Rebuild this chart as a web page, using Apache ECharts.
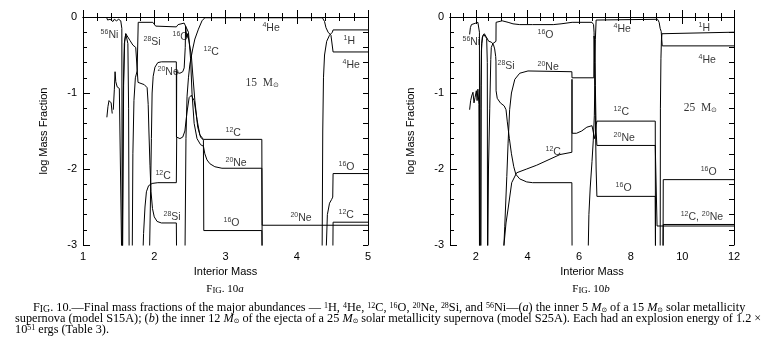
<!DOCTYPE html>
<html><head><meta charset="utf-8">
<script src="https://cdn.jsdelivr.net/npm/echarts@6/dist/echarts.min.js"></script>
<style>html,body{margin:0;padding:0;background:#fff}#c{width:769px;height:347px}</style>
</head><body><div id="c"></div>
<script>
// ---------- tick labels ----------
const xTicksA = [1, 2, 3, 4, 5];
const xTicksB = [2, 4, 6, 8, 10, 12];
const yTicks = [-3, -2, -1, 0];

// ---------- Panel (a): 15 Msun, log mass fraction vs interior mass ----------
const h1_a = [[[4.355,-3.3],[4.365,-1.5],[4.375,-0.8],[4.39,-0.5],[4.42,-0.32],[4.46,-0.24],[4.5,-0.2],[4.51,-0.17],[5,-0.17]]];
const he4_a = [
  [[1.335,-1.32],[1.35,-1.18],[1.365,-1.1],[1.38,-1.08],[1.395,-1.13],[1.41,-1.27]],
  [[1.425,-1.22],[1.44,-0.95],[1.45,-0.72],[1.46,-0.85],[1.48,-0.92],[1.51,-0.94],[1.535,-0.96],[1.545,-3.3]],
  [[2.43,-3.3],[2.445,-1.6],[2.46,-1.05],[2.48,-0.8],[2.5,-0.62],[2.54,-0.42],[2.57,-0.29],[2.62,-0.16],[2.67,-0.05],[2.71,-0.01],[4.36,-0.01],[4.39,-0.06],[4.41,-0.14],[4.44,-0.2],[4.48,-0.24],[4.505,-0.25],[4.51,-0.46],[5,-0.46]]
];
const c12_a = [
  [[1.835,-3.3],[1.85,-2.85],[1.87,-2.5],[1.89,-2.3],[1.92,-2.22],[1.97,-2.19],[2.05,-2.18],[2.31,-2.18],[2.315,-1.58],[2.36,-1.6],[2.4,-1.58],[2.43,-1.5],[2.46,-1.25],[2.49,-1.06],[2.52,-1.03],[2.56,-1.1],[2.6,-1.35],[2.64,-1.55],[2.69,-1.61],[3.51,-1.61],[3.515,-3.3]],
  [[4.505,-3.3],[4.51,-2.7],[5,-2.7]]
];
const o16_a = [
  [[1.69,-3.3],[1.7,-1.8],[1.715,-1.1],[1.735,-0.8],[1.76,-0.71],[1.772,-0.7],[1.775,-0.07],[1.98,-0.07],[2.02,-0.12],[2.04,-0.13],[2.31,-0.13],[2.335,-0.1],[2.36,-0.08],[2.42,-0.08],[2.44,-0.12],[2.455,-0.27],[2.47,-0.22],[2.49,-0.24],[2.52,-0.5],[2.54,-0.75],[2.57,-1.1],[2.61,-1.45],[2.65,-1.58],[2.69,-1.62],[2.695,-2.81],[3.51,-2.81],[3.515,-3.3]],
  [[4.405,-3.3],[4.43,-2.6],[4.46,-2.45],[4.49,-2.4],[4.505,-2.37],[4.51,-2.06],[5,-2.06]]
];
const ne20_a = [[[1.93,-3.3],[1.945,-2.5],[1.96,-1.6],[1.97,-1.0],[1.985,-0.78],[2.01,-0.66],[2.05,-0.6],[2.1,-0.59],[2.31,-0.59],[2.312,-1.58],[2.315,-0.73],[2.36,-0.74],[2.4,-0.72],[2.42,-0.67],[2.435,-0.4],[2.44,-0.12],[2.46,-0.1],[2.48,-0.2],[2.51,-0.55],[2.53,-1.0],[2.56,-1.4],[2.6,-1.6],[2.65,-1.68],[2.69,-1.7],[2.71,-1.8],[2.74,-1.88],[2.78,-1.93],[2.85,-1.97],[2.95,-1.99],[3.51,-1.99],[3.515,-2.74],[5,-2.74]]];
const si28_a = [[[1.55,-3.3],[1.565,-1.0],[1.58,-0.35],[1.6,-0.22],[1.62,-0.24],[1.66,-0.31],[1.7,-0.37],[1.74,-0.4],[1.765,-0.41],[1.772,-0.86],[1.8,-0.87],[1.86,-0.89],[1.9,-0.93],[1.915,-1.15],[1.925,-1.5],[1.94,-1.95],[1.955,-2.3],[1.975,-2.52],[2.0,-2.63],[2.04,-2.69],[2.1,-2.71],[2.31,-2.71],[2.315,-3.3]]];
const ni56_a = [
  [[1.33,0],[1.345,-0.04],[1.36,-0.06],[1.38,-0.03],[1.4,-0.05],[1.42,-0.06],[1.44,-0.03],[1.47,-0.05],[1.5,-0.03],[1.53,-0.05],[1.545,-0.15],[1.55,-3.3]],
  [[1.555,-3.3],[1.57,-0.9],[1.585,-0.32],[1.6,-0.22],[1.615,-0.22],[1.63,-0.35],[1.64,-1.2],[1.648,-3.3]]
];

// ---------- Panel (b): 25 Msun ----------
const h1_b = [[[9.14,-3.3],[9.15,-1.2],[9.17,-0.55],[9.19,-0.3],[9.21,-0.22],[9.22,-0.2],[12,-0.2]]];
const he4_b = [
  [[1.76,-1.22],[1.8,-1.1],[1.84,-1.04],[1.89,-0.99],[1.93,-1.13],[1.97,-1.06],[2.02,-0.97],[2.05,-1.1],[2.08,-0.95],[2.12,-1.15],[2.145,-3.3]],
  [[6.34,-3.3],[6.38,-2.6],[6.43,-2.25],[6.5,-1.9],[6.55,-1.62],[6.59,-1.3],[6.61,-0.9],[6.615,-0.6],[6.63,-0.3],[6.66,-0.04],[6.7,-0.03],[9.04,-0.03],[9.1,-0.07],[9.14,-0.15],[9.18,-0.19],[9.215,-0.2],[9.22,-0.38],[12,-0.38]]
];
const c12_b = [
  [[3.07,-3.3],[3.09,-3.0],[3.17,-2.71],[3.26,-2.5],[3.39,-2.18],[3.58,-2.05],[3.97,-2.0],[4.36,-1.95],[5.26,-1.81],[5.72,-1.78],[5.725,-0.82],[5.73,-1.53],[5.9,-1.53],[6.1,-1.5],[6.3,-1.45],[6.5,-1.43],[6.57,-1.45],[6.6,-1.6],[6.63,-1.55],[6.66,-1.42],[6.69,-1.37],[8.95,-1.37],[8.96,-3.3]],
  [[9.25,-3.3],[9.26,-2.73],[12,-2.73]]
];
const o16_b = [
  [[2.46,-3.3],[2.49,-2.0],[2.54,-1.2],[2.58,-0.56],[2.6,-0.4],[2.66,-0.35],[2.73,-0.33],[2.78,-0.32],[2.785,-0.07],[2.85,-0.06],[3.02,-0.05],[3.25,-0.07],[3.44,-0.09],[3.7,-0.1],[4.2,-0.1],[5.0,-0.1],[5.3,-0.09],[5.73,-0.07],[6.5,-0.07],[6.56,-0.1],[6.58,-0.2],[6.6,-0.6],[6.63,-1.3],[6.66,-2.0],[6.69,-2.36],[8.95,-2.36],[8.96,-3.3]],
  [[9.25,-3.3],[9.26,-2.14],[12,-2.14]]
];
const ne20_b = [[[3.05,-3.3],[3.12,-2.76],[3.2,-2.1],[3.25,-1.66],[3.31,-1.22],[3.38,-1.0],[3.51,-0.82],[3.7,-0.74],[4.02,-0.71],[5.72,-0.72],[5.725,-0.8],[6.57,-0.8],[6.58,-0.25],[6.6,-0.3],[6.63,-0.9],[6.66,-1.5],[6.69,-1.69],[8.95,-1.69],[9.0,-1.7],[9.02,-2.75],[12,-2.75]]];
const si28_b = [[[2.19,-3.3],[2.205,-0.9],[2.225,-0.35],[2.27,-0.25],[2.33,-0.22],[2.4,-0.26],[2.5,-0.32],[2.6,-0.33],[2.68,-0.36],[2.73,-0.42],[2.77,-0.52],[2.78,-0.58],[2.785,-0.97],[2.83,-1.07],[2.95,-1.13],[3.1,-1.17],[3.17,-1.22],[3.22,-1.38],[3.3,-1.6],[3.38,-1.8],[3.47,-1.97],[3.55,-2.07],[3.7,-2.13],[3.97,-2.17],[4.2,-2.18],[5.72,-2.18],[5.73,-3.3]]];
const ni56_b = [
  [[1.76,-0.23],[1.79,-0.14],[1.83,-0.1],[1.9,-0.09],[2.0,-0.08],[2.08,-0.07],[2.13,-0.07],[2.14,-0.2],[2.148,-3.3]],
  [[2.19,-3.3],[2.2,-1.2],[2.215,-0.45],[2.25,-0.27],[2.3,-0.23],[2.37,-0.22],[2.42,-0.28],[2.445,-0.6],[2.455,-3.3]]
];

// ---------- species labels (mass number, element, x, y in data units) ----------
const labelsA = [
  ['56','Ni',1.24,-0.23], ['28','Si',1.842,-0.32], ['16','O',2.249,-0.26], ['20','Ne',2.039,-0.72],
  ['12','C',2.684,-0.455], ['4','He',3.512,-0.14], ['1','H',4.649,-0.31], ['4','He',4.635,-0.63],
  ['12','C',2.993,-1.52], ['20','Ne',2.993,-1.91], ['16','O',2.965,-2.71], ['20','Ne',3.905,-2.645],
  ['16','O',4.579,-1.97], ['12','C',4.579,-2.6], ['12','C',2.01,-2.09], ['28','Si',2.123,-2.62]
];
const labelsB = [
  ['56','Ni',1.465,-0.32], ['16','O',4.372,-0.23], ['28','Si',2.822,-0.64], ['20','Ne',4.372,-0.65],
  ['12','C',4.682,-1.77], ['4','He',7.318,-0.15], ['1','H',10.61,-0.14], ['4','He',10.61,-0.56],
  ['12','C',7.318,-1.25], ['20','Ne',7.318,-1.59], ['16','O',7.395,-2.25], ['16','O',10.69,-2.03],
  ['12,20','C,Ne',9.915,-2.63]
];
const massLabelA = ['15', 3.274, -0.85];
const massLabelB = ['25', 10.03, -1.18];

const SANS = '"Liberation Sans", Arial, sans-serif';
const SERIF = '"Liberation Serif", "Times New Roman", serif';

function lineSeries(segs, xi, yi, name) {
  return segs.map(seg => ({
    type: 'line', name: name, xAxisIndex: xi, yAxisIndex: yi, data: seg,
    symbol: 'none', showSymbol: false, clip: true, silent: true, animation: false,
    lineStyle: { color: '#000', width: 1 }
  }));
}
const richSpecies = {
  s: { fontSize: 7, fontFamily: SANS, color: '#000', lineHeight: 5, verticalAlign: 'top' },
  e: { fontSize: 10.5, fontFamily: SANS, color: '#000', lineHeight: 12, verticalAlign: 'bottom' },
  t: { fontSize: 11.5, fontFamily: SERIF, color: '#000', lineHeight: 14, verticalAlign: 'bottom' },
  o: { fontSize: 7, fontFamily: 'DejaVu Sans', color: '#000', lineHeight: 6, verticalAlign: 'bottom' }
};
function speciesText(mass, el) {
  if (mass.indexOf(',') >= 0) {
    const m = mass.split(','), e = el.split(',');
    return '{s|' + m[0] + '}{e|' + e[0] + ', }{s|' + m[1] + '}{e|' + e[1] + '}';
  }
  return '{s|' + mass + '}{e|' + el + '}';
}
function labelSeries(list, massLbl, xi, yi) {
  const data = list.map(l => ({ value: [l[2], l[3]], txt: speciesText(l[0], l[1]) }));
  data.push({ value: [massLbl[1], massLbl[2]], txt: '{t|' + massLbl[0] + '  M}{o|⊙}' });
  return {
    type: 'scatter', xAxisIndex: xi, yAxisIndex: yi, data: data, symbolSize: 1, silent: true, animation: false,
    itemStyle: { color: 'rgba(0,0,0,0)' },
    labelLayout: { hideOverlap: false },
    label: { show: true, position: 'right', distance: 0, color: '#000', formatter: p => p.data.txt, rich: richSpecies }
  };
}

const axisTxt = { color: '#000', fontSize: 11, fontFamily: SANS };
const xAxis = [
  { gridIndex: 0, type: 'value', min: 1, max: 5, interval: 1, position: 'bottom',
    axisLine: { show: true, lineStyle: { color: '#000', width: 1 } },
    axisTick: { show: true, inside: true, length: 7, lineStyle: { color: '#000' } },
    minorTick: { show: true, splitNumber: 5, length: 4, lineStyle: { color: '#000' } },
    axisLabel: Object.assign({ margin: 6, customValues: xTicksA }, axisTxt),
    splitLine: { show: false },
    name: 'Interior Mass', nameLocation: 'middle', nameGap: 21, nameTextStyle: axisTxt },
  { gridIndex: 0, type: 'value', min: 1, max: 5, interval: 1, position: 'top',
    axisLine: { show: true, lineStyle: { color: '#000', width: 1 } },
    axisTick: { show: true, inside: true, length: 7, lineStyle: { color: '#000' } },
    minorTick: { show: true, splitNumber: 5, length: 4, lineStyle: { color: '#000' } },
    axisLabel: { show: false }, splitLine: { show: false } },
  { gridIndex: 1, type: 'value', min: 1, max: 12, interval: 0.5, position: 'bottom',
    axisLine: { show: true, lineStyle: { color: '#000', width: 1 } },
    axisTick: { show: true, inside: true, length: 4, lineStyle: { color: '#000' } },
    axisLabel: Object.assign({ margin: 6, customValues: xTicksB }, axisTxt),
    splitLine: { show: false },
    name: 'Interior Mass', nameLocation: 'middle', nameGap: 21, nameTextStyle: axisTxt },
  { gridIndex: 1, type: 'value', min: 1, max: 12, position: 'bottom',
    axisLine: { show: false },
    axisTick: { show: true, inside: true, length: 7, customValues: xTicksB, lineStyle: { color: '#000' } },
    axisLabel: { show: false }, splitLine: { show: false } },
  { gridIndex: 1, type: 'value', min: 1, max: 12, interval: 0.5, position: 'top',
    axisLine: { show: true, lineStyle: { color: '#000', width: 1 } },
    axisTick: { show: true, inside: true, length: 4, lineStyle: { color: '#000' } },
    axisLabel: { show: false }, splitLine: { show: false } },
  { gridIndex: 1, type: 'value', min: 1, max: 12, position: 'top',
    axisLine: { show: false },
    axisTick: { show: true, inside: true, length: 7, customValues: xTicksB, lineStyle: { color: '#000' } },
    axisLabel: { show: false }, splitLine: { show: false } }
];
function yAx(grid, pos, labels) {
  return { gridIndex: grid, type: 'value', min: -3, max: 0, interval: 1, position: pos,
    axisLine: { show: true, lineStyle: { color: '#000', width: 1 } },
    axisTick: { show: true, inside: true, length: pos === 'left' ? 7 : 5, lineStyle: { color: '#000' } },
    minorTick: { show: true, splitNumber: 5, length: pos === 'left' ? 4 : 5, lineStyle: { color: '#000' } },
    axisLabel: labels ? Object.assign({ margin: 6, customValues: yTicks }, axisTxt) : { show: false },
    splitLine: { show: false },
    name: labels ? 'log Mass Fraction' : '', nameLocation: 'middle', nameGap: 34, nameRotate: 90, nameTextStyle: axisTxt };
}
const yAxis = [yAx(0, 'left', true), yAx(0, 'right', false), yAx(1, 'left', true), yAx(1, 'right', false)];

let series = [];
[['1H',h1_a],['4He',he4_a],['12C',c12_a],['16O',o16_a],['20Ne',ne20_a],['28Si',si28_a],['56Ni',ni56_a]]
  .forEach(s => series = series.concat(lineSeries(s[1], 0, 0, s[0])));
[['1H',h1_b],['4He',he4_b],['12C',c12_b],['16O',o16_b],['20Ne',ne20_b],['28Si',si28_b],['56Ni',ni56_b]]
  .forEach(s => series = series.concat(lineSeries(s[1], 2, 2, s[0])));
series.push(labelSeries(labelsA, massLabelA, 0, 0));
series.push(labelSeries(labelsB, massLabelB, 2, 2));

const CF = 12.25;
const capRich = {
  r: { fontFamily: SERIF, fontSize: CF, color: '#000', lineHeight: 12, verticalAlign: 'bottom' },
  i: { fontFamily: SERIF, fontSize: CF, fontStyle: 'italic', color: '#000', lineHeight: 12, verticalAlign: 'bottom' },
  sc: { fontFamily: SERIF, fontSize: CF * 0.8, color: '#000', lineHeight: 12, verticalAlign: 'bottom' },
  sup: { fontFamily: SERIF, fontSize: CF * 0.65, color: '#000', lineHeight: 6, verticalAlign: 'top' },
  sub: { fontFamily: 'DejaVu Sans', fontSize: CF * 0.55, color: '#000', lineHeight: 5, verticalAlign: 'bottom' }
};
const figRich = Object.assign({}, capRich, {
  r: Object.assign({}, capRich.r, { fontSize: 11 }),
  i: Object.assign({}, capRich.i, { fontSize: 11 }),
  sc: Object.assign({}, capRich.sc, { fontSize: 8.8 })
});
const cap1 = '{r|F}{sc|IG}{r|. 10.—Final mass fractions of the major abundances — }{sup|1}{r|H, }{sup|4}{r|He, }{sup|12}{r|C, }{sup|16}{r|O, }{sup|20}{r|Ne, }{sup|28}{r|Si, and }{sup|56}{r|Ni—(}{i|a}{r|) the inner 5 }{i|M}{sub|⊙}{r| of a 15 }{i|M}{sub|⊙}{r| solar metallicity}';
const cap2 = '{r|supernova (model S15A); (}{i|b}{r|) the inner 12 }{i|M}{sub|⊙}{r| of the ejecta of a 25 }{i|M}{sub|⊙}{r| solar metallicity supernova (model S25A). Each had an explosion energy of 1.2 ×}';
const cap3 = '{r|10}{sup|51}{r| ergs (Table 3).}';

const chart = echarts.init(document.getElementById('c'), null, { renderer: 'canvas' });
chart.setOption({
  animation: false,
  backgroundColor: '#fff',
  grid: [
    { left: 83, top: 17, width: 285, height: 228, containLabel: false },
    { left: 450, top: 17, width: 284, height: 228, containLabel: false }
  ],
  xAxis: xAxis, yAxis: yAxis, series: series,
  graphic: [
    { type: 'text', style: { text: '{r|F}{sc|IG}{r|. 10}{i|a}', rich: figRich, x: 225, y: 283, align: 'center' } },
    { type: 'text', style: { text: '{r|F}{sc|IG}{r|. 10}{i|b}', rich: figRich, x: 591, y: 283, align: 'center' } },
    { type: 'text', style: { text: cap1, rich: capRich, x: 33, y: 302 } },
    { type: 'text', style: { text: cap2, rich: capRich, x: 15, y: 313 } },
    { type: 'text', style: { text: cap3, rich: capRich, x: 15, y: 324 } }
  ]
});
</script></body></html>
